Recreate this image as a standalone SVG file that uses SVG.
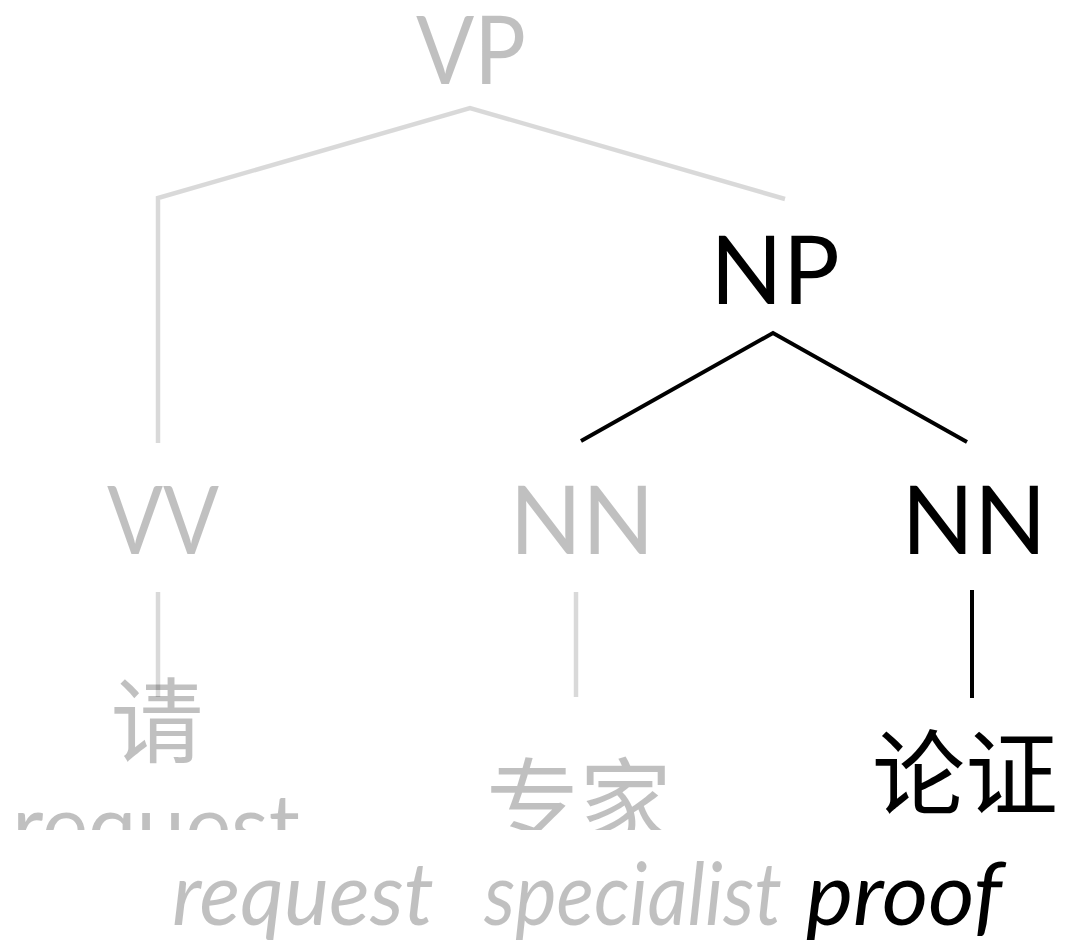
<svg xmlns="http://www.w3.org/2000/svg" width="1066" height="952" viewBox="0 0 1066 952">
<style>
.lab{font-family:Lato,"Open Sans","Noto Sans CJK SC",sans-serif;font-size:95px;text-anchor:middle}
.cjk{font-family:"Noto Sans CJK SC",sans-serif;font-size:93px;text-anchor:middle}
.gray{fill:#000;fill-opacity:0.247}
.blk{fill:#000}
.gl{stroke:#000;stroke-opacity:0.15;stroke-width:4.5;fill:none}
.bl{stroke:#000;stroke-width:4;fill:none}
.it{font-family:Lato,"Open Sans",sans-serif;font-style:italic;font-size:88px}
.up{font-family:Lato,"Open Sans",sans-serif;font-size:90px}
</style>
<defs>
<clipPath id="cut"><rect x="0" y="0" width="1066" height="830"/></clipPath>
</defs>
<g id="connectors">
<polyline class="gl" points="158,443 158,198 470,108 785,199"/>
<line class="gl" x1="158" y1="592" x2="158" y2="697"/>
<line class="gl" x1="576" y1="592" x2="576" y2="697"/>
<polyline class="bl" points="581,441 773,333 967,442"/>
<line class="bl" x1="972" y1="590" x2="972" y2="698" stroke-width="5"/>
</g>
<g id="VP"><text class="lab gray" x="471" y="84" textLength="110" lengthAdjust="spacingAndGlyphs">VP</text></g>
<g id="NP"><text class="lab blk" x="775" y="304">NP</text></g>
<g id="VV"><text class="lab gray" x="163" y="554" textLength="112" lengthAdjust="spacingAndGlyphs">VV</text></g>
<g id="NN1"><text class="lab gray" x="582" y="554">NN</text></g>
<g id="NN2"><text class="lab blk" x="974" y="554">NN</text></g>
<g id="w-qing" clip-path="url(#cut)">
<text class="cjk gray" x="157" y="756">请</text>
<text class="up gray" x="12" y="858" textLength="288" lengthAdjust="spacingAndGlyphs">request</text>
</g>
<g id="w-zhuanjia" clip-path="url(#cut)">
<text class="cjk gray" x="579" y="836">专家</text>
</g>
<g id="w-lunzheng">
<text class="cjk blk" x="965" y="808">论证</text>
</g>
<g id="gloss">
<text class="it gray" x="172" y="925" textLength="262" lengthAdjust="spacingAndGlyphs">request</text>
<text class="it gray" x="484" y="925" textLength="298" lengthAdjust="spacingAndGlyphs">specialist</text>
<text class="it blk" x="806" y="925" textLength="196" lengthAdjust="spacingAndGlyphs">proof</text>
</g>
</svg>
